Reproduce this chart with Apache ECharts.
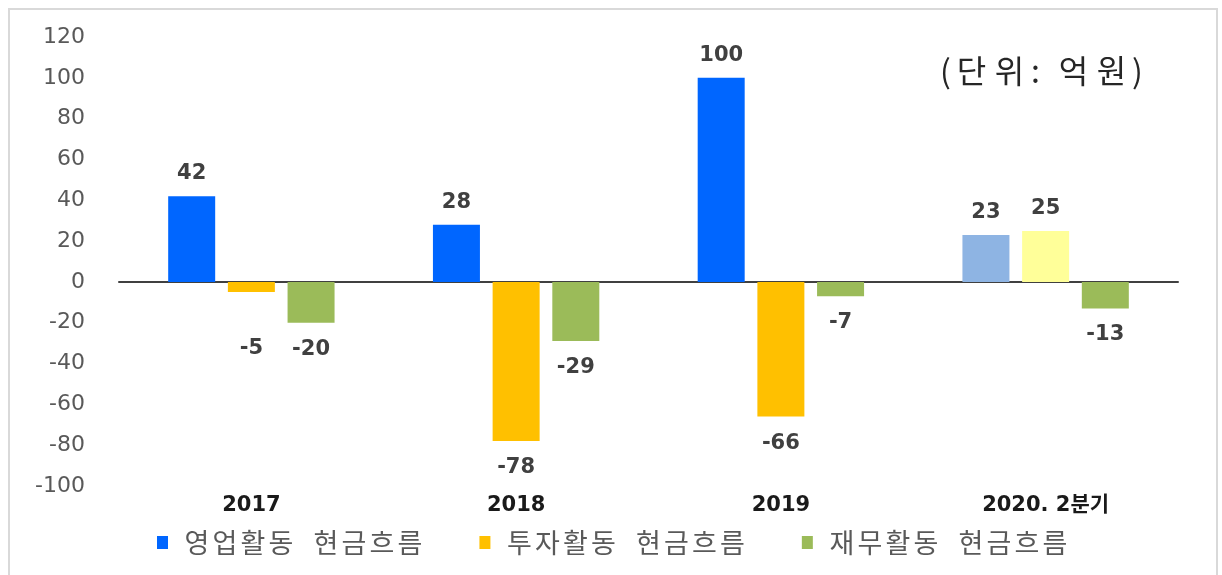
<!DOCTYPE html>
<html>
<head>
<meta charset="utf-8">
<script src="https://cdn.jsdelivr.net/npm/echarts@6/dist/echarts.min.js"></script>
<style>
html,body{margin:0;padding:0;background:#fff;}
#chart{width:1222px;height:575px;}
</style>
</head>
<body>
<div id="chart"></div>
<script>
const categories = ['2017', '2018', '2019', '2020. 2분기'];
const seriesNames = ['영업활동 현금흐름', '투자활동 현금흐름', '재무활동 현금흐름'];
const operating = [42, 28, 100, 23];
const investing = [-5, -78, -66, 25];
const financing = [-20, -29, -7, -13];
const yTicks = [-100, -80, -60, -40, -20, 0, 20, 40, 60, 80, 100, 120];
const unitText = '(단위: 억원)';

const baseColors = ['#0066FF', '#FFC000', '#9BBB59'];
const lastColors = ['#8EB4E3', '#FFFF99', '#9BBB59'];
const FONT = 'DejaVu Sans, Noto Sans CJK KR, sans-serif';
const KFONT = 'Noto Sans CJK KR, sans-serif';

// the original text is drawn with wide tracking: give each character its own fixed-width box
function spaced(str) {
  return str.split('').map(ch => {
    if (ch === ' ') return '{s| }';
    if (/[():]/.test(ch)) return '{p|' + ch + '}';
    return '{h|' + ch + '}';
  }).join('');
}

function makeData(values, si) {
  return values.map((v, i) => {
    const d = { value: v };
    if (i === values.length - 1) d.itemStyle = { color: lastColors[si] };
    if (v < 0) d.label = { position: 'bottom', distance: 16 };
    if (si === 1 && i === 0) d.label = { position: 'bottom', distance: 46 };
    return d;
  });
}

const allSeries = [operating, investing, financing].map((vals, si) => ({
  name: seriesNames[si],
  type: 'bar',
  xAxisIndex: 0,
  barWidth: 47,
  barGap: '27%',
  itemStyle: { color: baseColors[si] },
  data: makeData(vals, si),
  label: {
    show: true,
    position: 'top',
    distance: 12,
    fontFamily: FONT,
    fontWeight: 'bold',
    fontSize: 21,
    color: '#404040',
    formatter: p => String(p.value)
  }
}));

const legendTok = { fontFamily: KFONT, fontSize: 27, color: '#595959', align: 'center' };
const unitTok = { fontFamily: KFONT, fontSize: 32, fill: '#262626', color: '#262626', align: 'center' };

const chart = echarts.init(document.getElementById('chart'), null, { renderer: 'canvas' });
chart.setOption({
  backgroundColor: '#ffffff',
  animation: false,
  grid: { left: 119, right: 44, top: 37, bottom: 89, containLabel: false },
  legend: {
    data: seriesNames,
    top: 524,
    left: 152,
    itemWidth: 11,
    itemHeight: 13,
    itemGap: 57,
    icon: 'rect',
    formatter: name => spaced(name),
    textStyle: {
      fontFamily: KFONT, fontSize: 27, color: '#595959', padding: [0, 0, 0, 10],
      rich: {
        h: Object.assign({ width: 28 }, legendTok),
        s: Object.assign({ width: 17 }, legendTok),
        p: Object.assign({ width: 12 }, legendTok)
      }
    }
  },
  xAxis: [
    {
      type: 'category',
      data: categories,
      position: 'bottom',
      axisLine: { show: false, onZero: false },
      axisTick: { show: false },
      axisLabel: { fontFamily: FONT, fontWeight: 'bold', fontSize: 21, color: '#1a1a1a', margin: 9 },
      splitLine: { show: false }
    },
    {
      type: 'category',
      data: categories,
      position: 'bottom',
      axisLine: { show: true, onZero: true, lineStyle: { color: '#404040', width: 2 } },
      axisTick: { show: false },
      axisLabel: { show: false },
      splitLine: { show: false }
    }
  ],
  yAxis: {
    type: 'value',
    min: yTicks[0],
    max: yTicks[yTicks.length - 1],
    interval: 20,
    axisLine: { show: false },
    axisTick: { show: false },
    splitLine: { show: false },
    axisLabel: { fontFamily: FONT, fontSize: 22, color: '#595959', margin: 34 }
  },
  series: allSeries,
  graphic: [
    {
      type: 'rect',
      shape: { x: 9, y: 9, width: 1208, height: 580 },
      style: { fill: 'none', stroke: '#d9d9d9', lineWidth: 2 },
      silent: true
    },
    {
      type: 'text',
      left: 940,
      top: 55,
      style: {
        text: spaced(unitText),
        rich: {
          h: Object.assign({ width: 38 }, unitTok),
          s: Object.assign({ width: 12 }, unitTok),
          p: Object.assign({ width: 14 }, unitTok)
        }
      }
    }
  ]
});
</script>
</body>
</html>
